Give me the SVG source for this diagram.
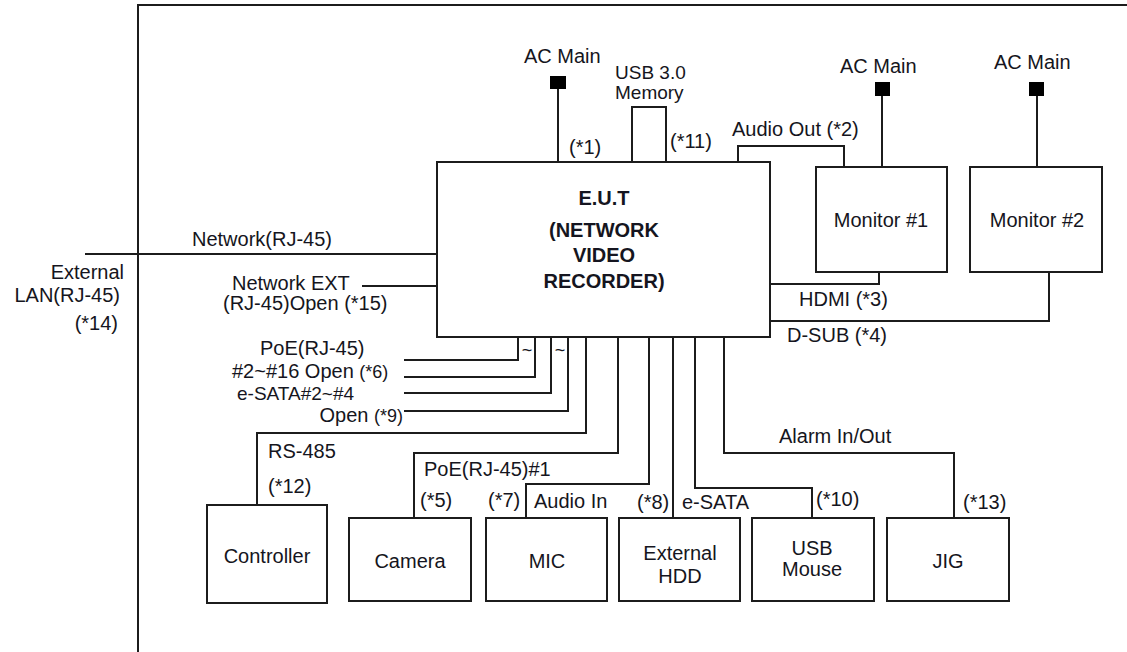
<svg xmlns="http://www.w3.org/2000/svg" width="1127" height="652" viewBox="0 0 1127 652">
<style>
.b{fill:#fff;stroke:#1c1c1c;stroke-width:2}
.w{fill:none;stroke:#1c1c1c;stroke-width:2}
.sq{fill:#000}
text{font-family:"Liberation Sans",Arial,sans-serif;font-size:20px;fill:#151520}
.c{text-anchor:middle}
.e{text-anchor:end}
.bold{font-weight:bold}
.sm{font-size:18px}
.m{font-size:19px}
.t{font-size:18px}
</style>
<rect width="1127" height="652" fill="#fff"/>
<g id="frame"><path class="w" d="M138,652 V5 H1127"/></g>
<g id="connectors">
<path class="w" d="M558,89 V162"/>
<path class="w" d="M882,96 V167"/>
<path class="w" d="M1037,96 V167"/>
<path class="w" d="M738,162 V146 H844 V167"/>
<path class="w" d="M770,284 H879 V272"/>
<path class="w" d="M770,321 H1049 V272"/>
<path class="w" d="M85,254 H437"/>
<path class="w" d="M362,286 H437"/>
<path class="w" d="M404,360 H518 V337"/>
<path class="w" d="M404,377 H535 V337"/>
<path class="w" d="M404,393 H551 V337"/>
<path class="w" d="M404,411 H568 V337"/>
<path class="w" d="M586,337 V433 H257 V505"/>
<path class="w" d="M618,337 V453 H414 V518"/>
<path class="w" d="M649,337 V484 H526 V518"/>
<path class="w" d="M673,337 V518"/>
<path class="w" d="M695,337 V488 H812 V518"/>
<path class="w" d="M724,337 V453 H954 V518"/>
</g>
<g id="eut">
<rect class="b" x="437" y="162" width="333" height="175"/>
<text class="c bold" x="604" y="205">E.U.T</text>
<text class="c bold" x="604" y="237">(NETWORK</text>
<text class="c bold" x="604" y="262">VIDEO</text>
<text class="c bold" x="604" y="288">RECORDER)</text>
</g>
<g id="ac1"><rect class="sq" x="550" y="76" width="16" height="13"/><text x="524" y="63">AC Main</text></g>
<g id="ac2"><rect class="sq" x="875" y="82" width="15" height="14"/><text x="840" y="73">AC Main</text></g>
<g id="ac3"><rect class="sq" x="1029" y="82" width="15" height="14"/><text x="994" y="69">AC Main</text></g>
<g id="usb-memory"><rect class="b" x="632" y="107" width="34" height="55"/><text class="m" x="615" y="79">USB 3.0</text><text class="m" x="615" y="99">Memory</text></g>
<g id="monitor1"><rect class="b" x="816" y="167" width="131" height="105"/><text class="c" x="881" y="227">Monitor #1</text></g>
<g id="monitor2"><rect class="b" x="970" y="167" width="132" height="105"/><text class="c" x="1037" y="227">Monitor #2</text></g>
<g id="controller"><rect class="b" x="207" y="505" width="120" height="98"/><text class="c" x="267" y="563">Controller</text></g>
<g id="camera"><rect class="b" x="349" y="518" width="122" height="83"/><text class="c" x="410" y="568">Camera</text></g>
<g id="mic"><rect class="b" x="486" y="518" width="121" height="83"/><text class="c" x="547" y="568">MIC</text></g>
<g id="hdd"><rect class="b" x="619" y="518" width="121" height="83"/><text class="c" x="680" y="560">External</text><text class="c" x="680" y="583">HDD</text></g>
<g id="mouse"><rect class="b" x="752" y="518" width="122" height="83"/><text class="c" x="812" y="555">USB</text><text class="c" x="812" y="576">Mouse</text></g>
<g id="jig"><rect class="b" x="887" y="518" width="122" height="83"/><text class="c" x="948" y="568">JIG</text></g>
<g id="labels">
<text x="569" y="154">(*1)</text>
<text x="670" y="148">(*11)</text>
<text x="732" y="136">Audio Out (*2)</text>
<text x="799" y="306">HDMI (*3)</text>
<text x="787" y="342">D-SUB (*4)</text>
<text x="779" y="443">Alarm In/Out</text>
<text x="816" y="506">(*10)</text>
<text x="963" y="509">(*13)</text>
<text x="682" y="509">e-SATA</text>
<text x="637" y="509">(*8)</text>
<text x="534" y="508">Audio In</text>
<text x="488" y="507">(*7)</text>
<text x="420" y="507">(*5)</text>
<text x="424" y="476">PoE(RJ-45)#1</text>
<text x="268" y="458">RS-485</text>
<text x="268" y="493">(*12)</text>
<text x="192" y="246">Network(RJ-45)</text>
<text x="232" y="290">Network EXT</text>
<text x="223" y="310">(RJ-45)Open (*15)</text>
<text class="e" x="124" y="279">External</text>
<text class="e" x="120" y="302">LAN(RJ-45)</text>
<text class="e" x="118" y="330">(*14)</text>
<text x="260" y="355">PoE(RJ-45)</text>
<text x="232" y="378">#2~#16 Open <tspan class="sm">(*6)</tspan></text>
<text class="m" x="237" y="400">e-SATA#2~#4</text>
<text class="e" x="403" y="422">Open <tspan class="sm">(*9)</tspan></text>
<text class="t c" x="527" y="356">~</text>
<text class="t c" x="560" y="356">~</text>
</g>
</svg>
